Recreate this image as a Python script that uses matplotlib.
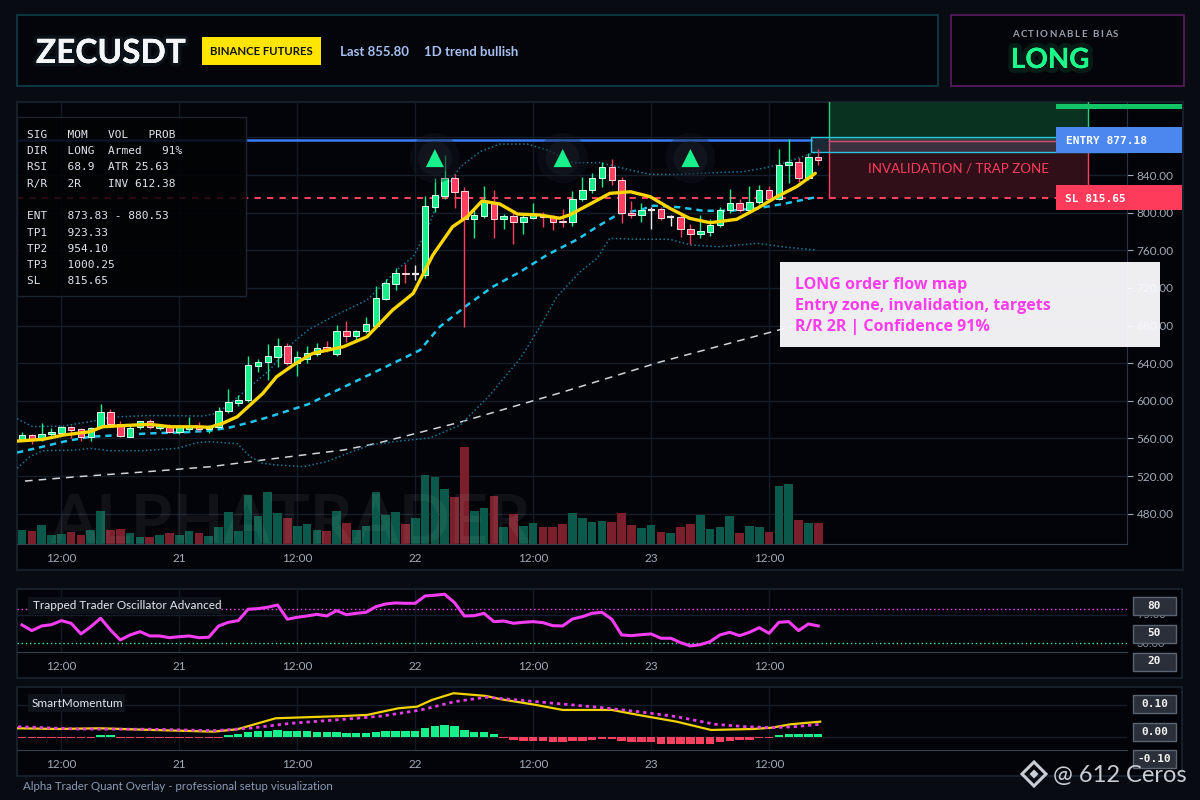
import matplotlib
matplotlib.use('Agg')
import matplotlib.pyplot as plt
from matplotlib.patches import Rectangle, Polygon
from matplotlib import patheffects as pe
from matplotlib.transforms import blended_transform_factory as blend

# ---------------- data ----------------
symbol = "ZECUSDT"
exchange = "BINANCE FUTURES"
last_text = "Last 855.80"
trend_text = "1D trend bullish"
bias_title = "ACTIONABLE BIAS"
bias = "LONG"

opens = [559, 563.6, 559.4, 564.4, 566, 572, 569.6, 562, 572.5, 587.7,
         575, 562, 572.5, 578.5, 571, 572, 567, 570, 572.5, 570,
         572.5, 589.4, 597.3, 600.8, 637.3, 641, 647, 658.2, 640, 644,
         650, 657, 650, 674.5, 669, 674, 680, 708.5, 724, 736,
         734.8, 734, 806.3, 818, 836.5, 823, 793, 796.7, 811.6, 793,
         796, 790.4, 794.6, 797, 795, 791, 789.7, 814.5, 823.7, 836.5,
         848, 834.4, 799.3, 797, 802.8, 803.5, 795.4, 795, 782.3, 777,
         779.7, 786.8, 802.8, 810, 802.8, 811, 823.7, 814.2, 850.6, 853.5,
         836.5, 859.5]
highs = [567, 564.5, 576, 570.7, 573, 573.5, 571, 572, 596.3, 591.3,
         578.5, 575, 579, 580.6, 575, 575, 574, 583, 577, 574,
         593.7, 612.5, 606, 647.6, 644, 660, 666.4, 661.4, 653, 658,
         661.4, 663.5, 680.5, 685, 675, 689, 722, 729, 741, 745,
         744, 817.7, 837, 861.3, 840.7, 827, 802.8, 828.3, 824, 798.5,
         802.8, 797, 810, 801, 797.5, 804, 823, 838, 842.4, 853.8,
         856.7, 838, 812, 810, 806, 806, 798, 798, 787.6, 797.5,
         792.9, 806, 825, 815, 828.3, 829.4, 828.3, 867.6, 878, 857.7,
         863, 867.3]
lows = [557, 554, 557, 563, 564, 560.8, 557.3, 557, 571, 573,
        561, 561, 569.6, 570, 569, 566, 565, 568, 568, 566,
        571, 587, 595, 599, 631, 622.4, 635.6, 638, 626.7, 640,
        648, 652, 648, 662.8, 663, 672, 678, 706.8, 718, 725,
        728, 730, 801, 814, 805, 678, 773.4, 794, 773.4, 783,
        767, 777, 793, 785, 781.5, 785, 786, 812.7, 821, 827.6,
        829.4, 789.3, 794.6, 790, 782.6, 792, 785.8, 774.4, 766.3, 773.4,
        775, 785, 800, 801, 800, 809, 811, 813.4, 831.8, 833,
        834.7, 850.6]
closes = [563.6, 558.3, 564.4, 566.5, 572, 569, 561.2, 570.7, 587.7, 575,
          562.6, 571, 578.5, 572.5, 573, 567, 572, 572.5, 569.7, 572.5,
          588.8, 598.4, 600.8, 638, 641, 647.3, 658.2, 640, 646.6, 650.4,
          656.5, 654.7, 674.5, 669, 674.5, 681.3, 709, 725, 735.5, 734.5,
          735.2, 807, 818.4, 836.5, 822.3, 793, 797.5, 811.6, 793, 796,
          790.4, 795, 798.5, 795, 790.4, 789.7, 815, 823.7, 836.5, 848,
          834.7, 799.3, 797, 802.8, 802.8, 794.6, 795.4, 782.3, 777, 780.5,
          786.8, 802.8, 810, 802.8, 811, 823.7, 814.2, 850.6, 853.8, 836.5,
          859.5, 855.8]
volumes = [14.3, 13.3, 19.3, 9.3, 10.3, 12.3, 9.3, 14.3, 33.3, 14.3,
           15.3, 11.3, 7.3, 7.3, 9.3, 11.3, 9.3, 13.3, 11.3, 8.3,
           17.3, 32.3, 13.3, 49.3, 28.3, 52.3, 31.3, 26.3, 18.3, 20.3,
           14.3, 13.3, 33.3, 21.3, 14.3, 18.3, 52.3, 29.3, 32.3, 20.3,
           26.3, 69.3, 67.3, 55.3, 47.3, 97.3, 33.3, 36.3, 48.3, 17.3,
           30.3, 18.3, 21.3, 17.3, 17.3, 20.3, 31.3, 26.3, 22.3, 23.3,
           22.3, 31.3, 19.3, 16.3, 19.3, 12.3, 11.3, 17.3, 20.3, 29.3,
           15.3, 17.3, 28.3, 11.3, 18.3, 17.3, 12.3, 58.3, 60.3, 24.3,
           21.3, 21.3]

tick_idx = [4, 16, 28, 40, 52, 64, 76]
tick_labels = ['12:00', '21', '12:00', '22', '12:00', '23', '12:00']
price_ticks = [480, 520, 560, 600, 640, 680, 720, 760, 800, 840]
price_grid = [480, 520, 560, 600, 640, 680, 720, 760, 800, 840, 880]

ema_fast_idx = [-0.5, 2.1, 4.2, 6.9, 8.2, 10.0, 13.0, 15.1, 17.8, 19.1, 20.4, 21.9, 23.2,
                24.5, 25.9, 27.6, 29.1, 29.6, 32.7, 35.1, 37.7, 39.8, 41.8, 43.8, 45.3,
                46.8, 48.6, 50.4, 52.7, 54.7, 55.7, 57.8, 59.8, 61.9, 63.9, 65.9, 67.9,
                70.0, 72.7, 74.8, 76.8, 78.8, 80.7]
ema_fast_val = [557.2, 559.0, 563.6, 567.1, 572.4, 573.5, 575.0, 572.4, 572.4, 571.8, 576.0,
                583.1, 595.5, 607.9, 625.6, 638.0, 647.6, 650.5, 657.5, 668.1, 696.5, 714.2,
                755.0, 785.0, 795.7, 812.4, 809.2, 798.5, 797.5, 794.0, 797.5, 809.2, 820.5,
                822.2, 817.0, 804.6, 794.0, 789.3, 792.9, 804.6, 817.0, 827.6, 841.8]
ema_slow_idx = [-0.5, 2.1, 4.2, 6.9, 10.0, 13.0, 16.4, 19.1, 21.2, 23.2, 25.2, 27.3, 29.1,
                38.8, 40.5, 42.5, 45.3, 47.9, 50.7, 53.4, 56.5, 58.5, 60.8, 62.9, 64.2,
                66.9, 69.3, 72.0, 74.8, 77.4, 80.7]
ema_slow_val = [545.0, 551.2, 556.5, 561.8, 563.6, 565.4, 566.5, 568.2, 571.8, 577.1, 583.1,
                590.2, 596.3, 645.2, 654.0, 678.7, 701.8, 721.3, 737.2, 755.0, 771.6, 785.0,
                799.3, 802.8, 807.4, 805.7, 802.0, 802.0, 804.6, 809.2, 816.3]
bb_up_idx = [-0.5, 1.1, 4.2, 6.9, 9.0, 12.3, 15.8, 18.4, 19.8, 21.2, 23.2, 25.2, 27.3, 29.1,
             31.6, 35.1, 38.5, 39.8, 41.2, 42.5, 44.6, 46.6, 48.6, 51.4, 53.4, 56.1, 58.8,
             61.9, 63.9, 66.9, 70.3, 73.3, 75.4, 77.4, 79.4, 80.7]
bb_up_val = [581.0, 572.5, 573.2, 577.8, 582.5, 584.2, 584.2, 583.8, 586.7, 597.3, 615.0,
             632.7, 659.3, 675.3, 689.4, 707.1, 742.5, 753.2, 781.5, 816.9, 848.8, 864.8,
             872.9, 872.9, 866.6, 853.1, 853.1, 845.3, 840.7, 840.7, 842.4, 843.5, 847.1,
             852.4, 859.5, 863.7]
bb_lo_idx = [-0.5, 0.8, 2.1, 5.6, 6.9, 9.0, 12.3, 15.8, 17.8, 19.1, 21.9, 23.2, 24.5, 25.9,
             28.6, 31.0, 32.7, 35.4, 38.5, 41.5, 44.6, 47.6, 50.7, 52.7, 54.4, 56.8, 58.5,
             59.8, 62.6, 65.9, 68.0, 71.0, 74.8, 77.8, 80.7]
bb_lo_val = [528.2, 540.6, 546.9, 547.7, 549.5, 546.9, 546.9, 549.5, 555.5, 556.5, 554.4,
             540.6, 533.6, 531.8, 530.0, 535.3, 542.4, 553.0, 557.3, 560.5, 574.3, 606.2,
             645.2, 678.8, 710.6, 737.2, 751.5, 772.7, 771.7, 771.7, 765.6, 763.8, 767.4,
             763.2, 760.3]
ma_long_idx = [0.3, 5.6, 12.3, 19.1, 25.9, 32.7, 36.1, 44.6, 54.7, 64.9, 78.1, 81.0]
ma_long_val = [514.7, 519.3, 524.3, 529.9, 538.9, 547.7, 554.8, 577.4, 608.3, 641.2, 678.4, 687.0]

entry_price = 877.18
stop_price = 815.65
tp1_price = 923.33
entry_zone = (864.5, 880.53)
signal_idx = [42, 55, 68]
signal_price = [858, 858, 858]

osc_vals = [59.3, 53.1, 58.2, 59.6, 64.0, 61.1, 49.5, 57.4, 66.6, 53.8,
            42.9, 48.4, 52.0, 47.3, 47.3, 45.4, 46.5, 47.3, 45.4, 45.9,
            58.2, 62.2, 64.0, 76.4, 77.1, 78.6, 81.1, 65.5, 67.7, 69.1,
            70.9, 69.1, 74.9, 70.5, 72.0, 73.1, 79.2, 82.2, 83.3, 82.9,
            82.9, 90.9, 91.7, 92.8, 83.6, 69.1, 69.4, 72.0, 62.9, 63.6,
            61.1, 62.2, 62.9, 61.8, 58.5, 58.2, 65.8, 68.3, 72.0, 73.1,
            65.5, 48.4, 47.6, 48.7, 49.5, 44.8, 44.8, 40.0, 36.4, 37.8,
            41.1, 48.4, 51.3, 47.6, 51.3, 56.3, 50.2, 62.2, 62.9, 53.1,
            60.4, 58.2]
osc_upper = 76.7
osc_lower = 39.6
osc_grid = 70.2
osc_faint_ticks = [70.2, 39.6]
osc_faint_labels = ['75.00', '30.00']
osc_box_labels = ['80', '50', '20']

sm_fast_idx = [-0.4, 3.6, 7.9, 13.3, 19.5, 21.9, 25.8, 28.9, 32.8, 35.1, 38.3, 40.2, 41.7,
               43.9, 47.2, 48.7, 52.3, 55.0, 58.5, 60.0, 62.7, 66.6, 70.1, 74.4, 76.3, 78.2, 81.2]
sm_fast_val = [0.0272, 0.0250, 0.0272, 0.0219, 0.0166, 0.0241, 0.0584, 0.0616, 0.0656, 0.0688,
               0.0897, 0.0947, 0.1156, 0.1366, 0.1281, 0.1178, 0.1000, 0.0844, 0.0844, 0.0844,
               0.0688, 0.0478, 0.0219, 0.0250, 0.0291, 0.0397, 0.0478]
sm_slow_idx = [-0.4, 5.5, 13.3, 19.5, 23.1, 27.4, 32.8, 36.7, 40.6, 44.0, 47.2, 52.3, 58.8,
               62.7, 66.6, 70.5, 73.6, 76.3, 78.6, 81.2]
sm_slow_val = [0.0322, 0.0250, 0.0241, 0.0197, 0.0272, 0.0428, 0.0553, 0.0656, 0.0844, 0.1103,
               0.1241, 0.1103, 0.0922, 0.0791, 0.0634, 0.0397, 0.0322, 0.0291, 0.0322, 0.0397]
sm_hist = [-0.003, -0.003, -0.003, -0.002, -0.002, -0.002, -0.002, -0.002, 0.006, 0.006,
           -0.002, -0.002, -0.002, -0.002, -0.002, -0.004, -0.004, -0.004, -0.004, -0.004,
           -0.002, 0.005, 0.009, 0.015, 0.018, 0.020, 0.023, 0.020, 0.018, 0.018,
           0.015, 0.015, 0.015, 0.0125, 0.0125, 0.0125, 0.015, 0.018, 0.020, 0.020,
           0.018, 0.027, 0.033, 0.036, 0.033, 0.023, 0.017, 0.015, 0.008, -0.002,
           -0.010, -0.011, -0.011, -0.0135, -0.017, -0.017, -0.0135, -0.011, -0.010, -0.006,
           -0.005, -0.011, -0.016, -0.017, -0.017, -0.021, -0.022, -0.023, -0.023, -0.023,
           -0.021, -0.017, -0.011, -0.010, -0.008, -0.004, -0.002, 0.006, 0.010, 0.010,
           0.010, 0.010]
sm_grid = [0.10, 0.0]
sm_box_labels = ['0.10', '0.00', '-0.10']

info_rows = ["SIG   MOM   VOL   PROB",
             "DIR   LONG  Armed   91%",
             "RSI   68.9  ATR 25.63",
             "R/R   2R    INV 612.38",
             "ENT   873.83 - 880.53",
             "TP1   923.33",
             "TP2   954.10",
             "TP3   1000.25",
             "SL    815.65"]
note_lines = ["LONG order flow map",
              "Entry zone, invalidation, targets",
              "R/R 2R | Confidence 91%"]
zone_text = "INVALIDATION / TRAP ZONE"
entry_label = "ENTRY 877.18"
stop_label = "SL 815.65"
osc_title = "Trapped Trader Oscillator Advanced"
sm_title = "SmartMomentum"
footer = "Alpha Trader Quant Overlay - professional setup visualization"
brand = "@ 612 Ceros"
watermark = "ALPHATRADER"

# ---------------- colours ----------------
BG = '#080b12'
PANEL = '#020409'
GRID = '#161e29'
UP = '#17ef8b'
DN = '#ff3f5f'
VUP = '#0a594a'
VDN = '#7b1f2c'
TXT = '#a3abb8'

W, H = 1200, 800
fig = plt.figure(figsize=(12, 8), dpi=100)
fig.patch.set_facecolor(BG)


def fx(x):
    return x / W


def fy(y):
    return 1 - y / H


def add_ax(x0, y0, x1, y1):
    a = fig.add_axes([fx(x0), fy(y1), fx(x1) - fx(x0), fy(y0) - fy(y1)])
    a.set_facecolor('none')
    return a


def frect(x0, y0, x1, y1, **kw):
    r = Rectangle((fx(x0), fy(y1)), fx(x1) - fx(x0), fy(y0) - fy(y1),
                  transform=fig.transFigure, **kw)
    fig.add_artist(r)
    return r


def ftext(x, y, s, **kw):
    return fig.text(fx(x), fy(y), s, **kw)


# panels / boxes
frect(17, 15, 938, 86, facecolor='#03050a', edgecolor='#0f3d49', lw=1.2, zorder=-5)
frect(951, 15, 1184, 86, facecolor='#03050a', edgecolor='#5d1a63', lw=1.2, zorder=-5)
frect(17, 102, 1183, 570, facecolor=PANEL, edgecolor='#1b2430', lw=1.2, zorder=-5)
frect(17, 589, 1182, 678, facecolor=PANEL, edgecolor='#1b2430', lw=1.2, zorder=-5)
frect(17, 687, 1182, 776, facecolor=PANEL, edgecolor='#1b2430', lw=1.2, zorder=-5)

# header
ftext(36, 63, symbol, fontsize=24, fontweight='bold', family='Lato', color='#f4f6fa', va='baseline',
      path_effects=[pe.withStroke(linewidth=5, foreground=(0.5, 0.7, 0.8, 0.08)), pe.Normal()])
frect(202, 37, 321, 65, facecolor='#ffe500', edgecolor='none', zorder=2)
ftext(261.5, 55.3, exchange, fontsize=8.2, fontweight='bold', family='Lato', color='#111111',
      ha='center', va='baseline', zorder=3)
ftext(340, 56, last_text, fontsize=9.5, fontweight='bold', family='Lato', color='#a6c0f2', va='baseline')
ftext(424, 56, trend_text, fontsize=9.5, fontweight='bold', family='Lato', color='#a6c0f2', va='baseline')

renderer = fig.canvas.get_renderer()


def spaced_text(x, y, s, spacing, **kw):
    cx = x
    for ch in s:
        if ch == ' ':
            cx += kw.get('fontsize', 10) * 0.3 * 100 / 72 + spacing
            continue
        t = ftext(cx, y, ch, **kw)
        w = t.get_window_extent(renderer=renderer).width
        cx += w + spacing


spaced_text(1012, 37.3, bias_title, 1.5, fontsize=7, fontweight='bold', family='Lato',
            color='#9aa0ae', va='baseline')
ftext(1011, 68, bias, fontsize=20, fontweight='bold', family='Lato', color='#1cf98a', va='baseline',
      path_effects=[pe.withStroke(linewidth=7, foreground=(0.1, 0.9, 0.5, 0.10)), pe.Normal()])

# ---------------- main chart ----------------
PX = 9.83          # pixel distance between bars
X0PIX = 22         # pixel of first bar
xl = ((17 - X0PIX) / PX, (1127 - X0PIX) / PX)
ax = add_ax(17, 102, 1127, 544)
ymin, ymax = 447.8, 917.6
ax.set_xlim(*xl)
ax.set_ylim(ymin, ymax)
for s in ['top', 'left']:
    ax.spines[s].set_visible(False)
ax.spines['bottom'].set_color('#36404d')
ax.spines['right'].set_color('#2a3340')
ax.set_xticks([])
ax.yaxis.tick_right()
ax.set_yticks(price_ticks)
ax.set_yticklabels([f'{p:.2f}' for p in price_ticks], family='Lato')
ax.tick_params(axis='y', colors=TXT, length=4, width=0.8, pad=3, labelsize=8.5)
for p in price_grid:
    ax.axhline(p, color=GRID, lw=1, zorder=0)
for t in tick_idx:
    ax.axvline(t, color='#121a24', lw=1, zorder=0)

n = len(closes)
idx = list(range(n))
vol_scale = (ymax - ymin) / 442.0
vcols = [VUP if closes[i] >= opens[i] else VDN for i in idx]
ax.bar(idx, [v * vol_scale for v in volumes], bottom=ymin, width=0.88, color=vcols, zorder=1)

# bands and averages
ax.plot(ma_long_idx, ma_long_val, color='#d0d4dc', lw=1.1, dashes=(5, 4), zorder=2)
ax.plot(bb_up_idx, bb_up_val, color='#1c7595', lw=1.1, dashes=(1, 1.6), zorder=2)
ax.plot(bb_lo_idx, bb_lo_val, color='#1c7595', lw=1.1, dashes=(1, 1.6), zorder=2)
ax.plot(ema_slow_idx, ema_slow_val, color='#20c6ee', lw=1.8, dashes=(2.5, 2), zorder=3)

# levels
ax.axhline(stop_price, color=DN, lw=1.5, dashes=(3, 3), zorder=2)
box_start = (811 - X0PIX) / PX
z0 = (829 - X0PIX) / PX
z1 = (1088 - X0PIX) / PX
ax.plot([xl[0], box_start], [entry_price, entry_price], color='#3a7cf6', lw=1.8, zorder=2)

# candles
for i in idx:
    o, h, l, c = opens[i], highs[i], lows[i], closes[i]
    if abs(c - o) < 1.0:
        col, ec = '#e8e8e8', '#e8e8e8'
    elif c > o:
        col, ec = UP, '#d8ffee'
    else:
        col, ec = DN, '#ffd8e0'
    ax.plot([i, i], [l, h], color=col, lw=1, zorder=4, solid_capstyle='butt')
    if abs(c - o) < 1.0:
        ax.plot([i - 0.36, i + 0.36], [o, o], color=col, lw=1.6, zorder=5, solid_capstyle='butt')
    else:
        ax.add_patch(Rectangle((i - 0.33, min(o, c)), 0.66, abs(c - o), facecolor=col,
                               edgecolor=ec, lw=0.7, zorder=5))

ax.plot(ema_fast_idx, ema_fast_val, color='#ffd600', lw=2.4, zorder=6, solid_capstyle='round')

# zones
ax.add_patch(Rectangle((z0, entry_price), z1 - z0, tp1_price - entry_price,
                       facecolor='#0b3522', edgecolor='none', alpha=0.95, zorder=1.5))
ax.add_patch(Rectangle((z0, stop_price), z1 - z0, entry_price - stop_price,
                       facecolor='#33101a', edgecolor='none', alpha=0.95, zorder=1.5))
ax.plot([z0, z0], [entry_price, tp1_price], color='#1fd47b', lw=1, zorder=3)
ax.plot([z1, z1], [entry_price, tp1_price], color='#1fd47b', lw=1, zorder=3)
ax.plot([z0, z0], [stop_price, entry_price], color=DN, lw=1, zorder=3)
ax.plot([z1, z1], [stop_price, entry_price], color=DN, lw=1, zorder=3)
ax.plot([z0, xl[1]], [entry_price - 1.0, entry_price - 1.0], color=DN, lw=1, zorder=3)
ax.add_patch(Rectangle((box_start, entry_zone[0]), xl[1] - box_start, entry_zone[1] - entry_zone[0],
                       facecolor=(0.35, 0.55, 0.65, 0.28), edgecolor='#26c5dd', lw=1, zorder=3.5))
ax.text((z0 + z1) / 2, 842.5, zone_text, color=DN, fontsize=9.6, family='Lato',
        ha='center', va='baseline', zorder=4)

# signal triangles
ax.scatter(signal_idx, signal_price, s=1300, color='#161a20', alpha=0.35, zorder=5, edgecolors='none')
ax.scatter(signal_idx, signal_price, s=600, color='#1c2128', alpha=0.45, zorder=5, edgecolors='none')
ax.scatter(signal_idx, signal_price, s=170, marker='^', color='#18f08c', zorder=6, edgecolors='none')

# date labels main
tr = blend(ax.transData, fig.transFigure)
for t, lab in zip(tick_idx, tick_labels):
    ax.text(t, fy(562), lab, transform=tr, color=TXT, fontsize=8.5, family='Lato',
            ha='center', va='baseline')

# watermark
ftext(50, 543, watermark, fontsize=48, fontweight='bold', family='Lato', color='white',
      alpha=0.06, va='baseline', zorder=3)

# info box
frect(17, 117, 246, 296, facecolor=(0.01, 0.012, 0.02, 0.86), edgecolor='#1c2430', lw=1, zorder=5)
row_y = [137.7, 154, 170.3, 186.6, 219.3, 235.7, 251.8, 268, 284]
for s, yy in zip(info_rows, row_y):
    ftext(27, yy, s, family='DejaVu Sans Mono', fontsize=8, color='#e0e6ee', va='baseline', zorder=6)


# right-side price labels
def fig_y_of_price(p):
    d = ax.transData.transform((0, p))
    return fig.transFigure.inverted().transform(d)[1] * H


ey = H - fig_y_of_price(entry_price)
sy = H - fig_y_of_price(stop_price)
frect(1056, 104, 1182, 109, facecolor='#13c466', edgecolor='none', zorder=5)
frect(1056, ey - 13, 1182, ey + 13, facecolor='#4b87ef', edgecolor='none', zorder=5)
ftext(1066, ey + 4.3, entry_label, family='DejaVu Sans Mono', fontweight='bold', fontsize=8,
      color='white', va='baseline', zorder=6)
frect(1056, sy - 13, 1182, sy + 12, facecolor='#ff3b5c', edgecolor='none', zorder=5)
ftext(1065, sy + 4, stop_label, family='DejaVu Sans Mono', fontweight='bold', fontsize=8,
      color='white', va='baseline', zorder=6)

# note box
frect(780, 262, 1160, 347, facecolor=(0.99, 0.99, 1.0, 0.95), edgecolor='none', zorder=5)
for s, yy in zip(note_lines, [289, 310, 331]):
    ftext(795, yy, s, family='Open Sans', fontweight='bold', fontsize=11.5, color='#fb3ceb',
          va='baseline', zorder=6)

# ---------------- oscillator panel ----------------
ax2 = add_ax(17, 589, 1127, 652)
ax2.set_xlim(*xl)
ax2.set_ylim(29.8, 98.5)
for s in ['top', 'left', 'right']:
    ax2.spines[s].set_visible(False)
ax2.spines['bottom'].set_color('#36404d')
ax2.set_xticks([])
ax2.set_yticks([])
ax2.axhline(osc_grid, color=GRID, lw=1, zorder=0)
for t in tick_idx:
    ax2.axvline(t, color='#121a24', lw=1, zorder=0)
ax2.axhline(osc_upper, color='#ff45ff', lw=1, dashes=(1, 2), zorder=1)
ax2.axhline(osc_lower, color='#35f0a8', lw=1, dashes=(1, 2), zorder=1)
ax2.plot(idx, osc_vals, color='#f43cf2', lw=2.2, zorder=3)
tr2 = blend(ax2.transData, fig.transFigure)
for t, lab in zip(tick_idx, tick_labels):
    ax2.text(t, fy(670), lab, transform=tr2, color=TXT, fontsize=8.5, family='Lato',
             ha='center', va='baseline')
frect(28, 597, 221, 614, facecolor='#0e1219', edgecolor='none', zorder=2)
ftext(33, 609, osc_title, family='Lato', fontsize=8.5, color='#e6e9ee', va='baseline', zorder=3)
for v, lab in zip(osc_faint_ticks, osc_faint_labels):
    yy = H - fig.transFigure.inverted().transform(ax2.transData.transform((0, v)))[1] * H
    ftext(1137, yy, lab, family='Lato', fontsize=8, color='#8a929e', va='center', zorder=3)
for yc, lab in zip([606, 633.5, 661.5], osc_box_labels):
    frect(1133, yc - 9, 1176, yc + 9, facecolor='#2a2f39', edgecolor='#5c6472', lw=1, zorder=5)
    ftext(1154.5, yc, lab, family='DejaVu Sans Mono', fontweight='bold', fontsize=8,
          color='#f2f2f2', ha='center', va='center', zorder=6)

# ---------------- smart momentum panel ----------------
ax3 = add_ax(17, 687, 1127, 750)
ax3.set_xlim(*xl)
ax3.set_ylim(-0.0406, 0.156)
for s in ['top', 'left', 'right']:
    ax3.spines[s].set_visible(False)
ax3.spines['bottom'].set_color('#36404d')
ax3.set_xticks([])
ax3.set_yticks([])
for g in sm_grid:
    ax3.axhline(g, color=GRID, lw=1, zorder=0)
for t in tick_idx:
    ax3.axvline(t, color='#121a24', lw=1, zorder=0)
hcols = [UP if v >= 0 else DN for v in sm_hist]
ax3.bar(idx, sm_hist, width=0.86, color=hcols, zorder=2)
ax3.plot(sm_fast_idx, sm_fast_val, color='#f2d200', lw=1.6, zorder=3)
ax3.plot(sm_slow_idx, sm_slow_val, color='#e43ce6', lw=2, dashes=(1.2, 1.4), zorder=3)
tr3 = blend(ax3.transData, fig.transFigure)
for t, lab in zip(tick_idx, tick_labels):
    ax3.text(t, fy(768), lab, transform=tr3, color=TXT, fontsize=8.5, family='Lato',
             ha='center', va='baseline')
frect(28, 694, 125, 712, facecolor='#0e1219', edgecolor='none', zorder=2)
ftext(32, 707, sm_title, family='Lato', fontsize=8.5, color='#e6e9ee', va='baseline', zorder=3)
for yc, lab in zip([704, 732, 759], sm_box_labels):
    frect(1133, yc - 9, 1176, yc + 9, facecolor='#2a2f39', edgecolor='#5c6472', lw=1, zorder=5)
    ftext(1154.5, yc, lab, family='DejaVu Sans Mono', fontweight='bold', fontsize=8,
          color='#f2f2f2', ha='center', va='center', zorder=6)

# footer
ftext(23, 790, footer, family='Lato', fontsize=8.3, color='#8a9ab2', va='baseline')

# brand mark
cx, cy = 1034, 774
logo_col = '#c9cdd5'
outer = [(fx(cx), fy(cy - 12)), (fx(cx + 12), fy(cy)), (fx(cx), fy(cy + 12)), (fx(cx - 12), fy(cy))]
fig.add_artist(Polygon(outer, closed=True, fill=False, edgecolor=logo_col, lw=2.2,
                       transform=fig.transFigure, zorder=7))
inner = [(fx(cx), fy(cy - 4.5)), (fx(cx + 4.5), fy(cy)), (fx(cx), fy(cy + 4.5)), (fx(cx - 4.5), fy(cy))]
fig.add_artist(Polygon(inner, closed=True, facecolor=logo_col, edgecolor='none',
                       transform=fig.transFigure, zorder=7))
ftext(1053, 782, brand, family='Lato', fontsize=17, color=logo_col, va='baseline', zorder=7)

fig.savefig('out.png', dpi=100, facecolor=BG)
